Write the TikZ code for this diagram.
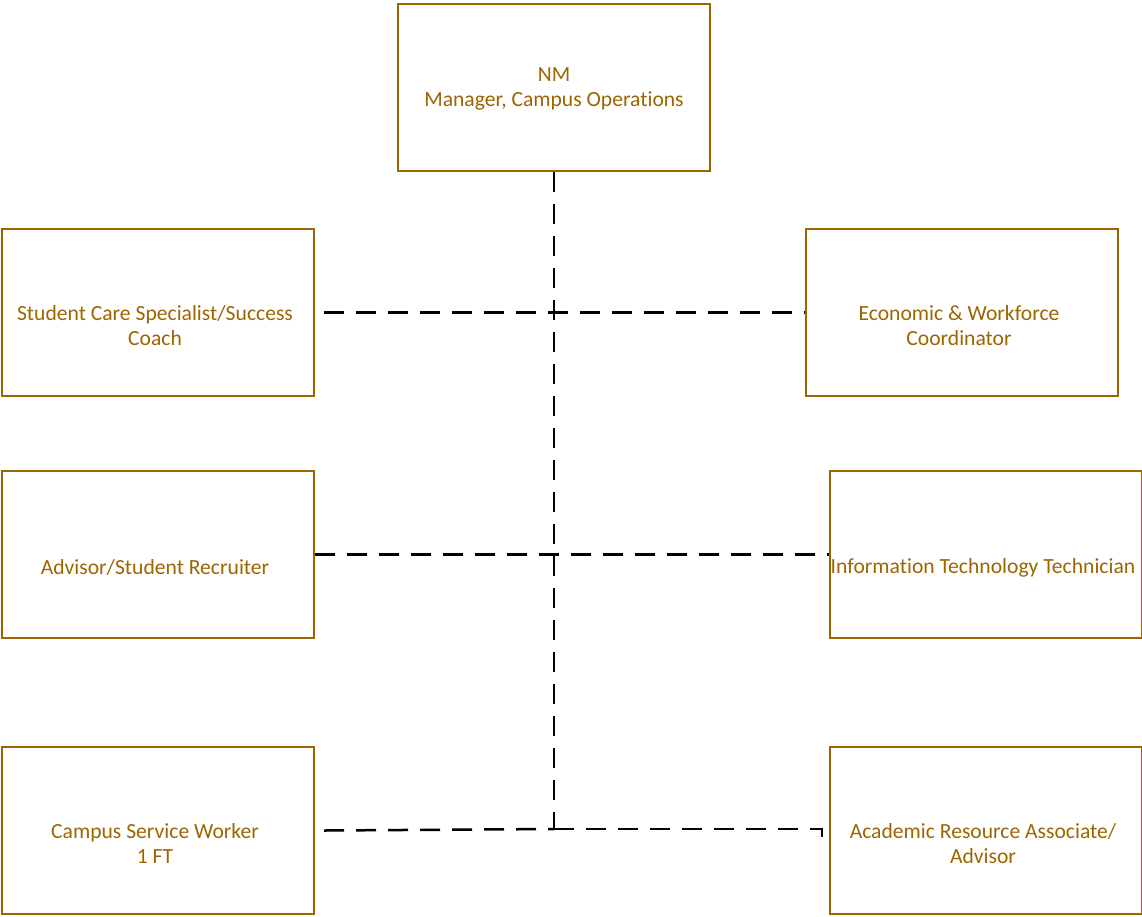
\documentclass[tikz,border=0pt]{standalone}
\usepackage{fontspec}
\setmainfont{Carlito}[Ligatures=NoCommon]
\definecolor{boxbrown}{HTML}{9C6500}
\begin{document}
\begin{tikzpicture}[
x=1pt,
y=-1pt,
box/.style={%
draw=boxbrown,
line width=2,
minimum width=312,
minimum height=167,
inner sep=0pt,
},
txt/.style={%
text=boxbrown,
align=center,
font=\fontsize{21.6}{25}\selectfont,
inner sep=0pt,
},
link/.style={%
draw=black,
line width=2.5,
dash pattern=on 20 off 12,
},
]
\useasboundingbox (0,0) rectangle (1142,916);
%% Manager
\node[box]at(554,87)(top){};
\node[txt]at(554,89)(top_t){NM\\Manager, Campus Operations};
%% Left column
\node[box]at(158,312.5)(l_1){};
\node[txt]at(155,325.5)(l_1t){Student Care Specialist/Success\\Coach};
\node[box]at(158,554.5)(l_2){};
\node[txt]at(155,567.5)(l_2t){Advisor/Student Recruiter};
\node[box]at(158,830.5)(l_3){};
\node[txt]at(155,843.5)(l_3t){Campus Service Worker\\1 FT};
%% Right column
\node[box]at(962,312.5)(r_1){};
\node[txt]at(959,325.5)(r_1t){Economic \& Workforce\\Coordinator};
\node[box]at(985.5,554.5)(r_2){};
\node[txt]at(983,567.5)(r_2t){Information Technology Technician};
\node[box]at(985.5,830.5)(r_3){};
\node[txt]at(983,843.5)(r_3t){Academic Resource Associate/\\Advisor};
%% Connectors
\coordinate(j)at(554,829);
\coordinate(k)at(822,829);
\draw[link](top.south)--(j);
\draw[link]([xshift=9]l_1.east)--(r_1.west);
\draw[link](l_2.east)--(r_2.west);
\draw[link]([xshift=9]l_3.east)--(j);
\draw[link](j)--(k)--++(0,18);
\end{tikzpicture}
\end{document}
